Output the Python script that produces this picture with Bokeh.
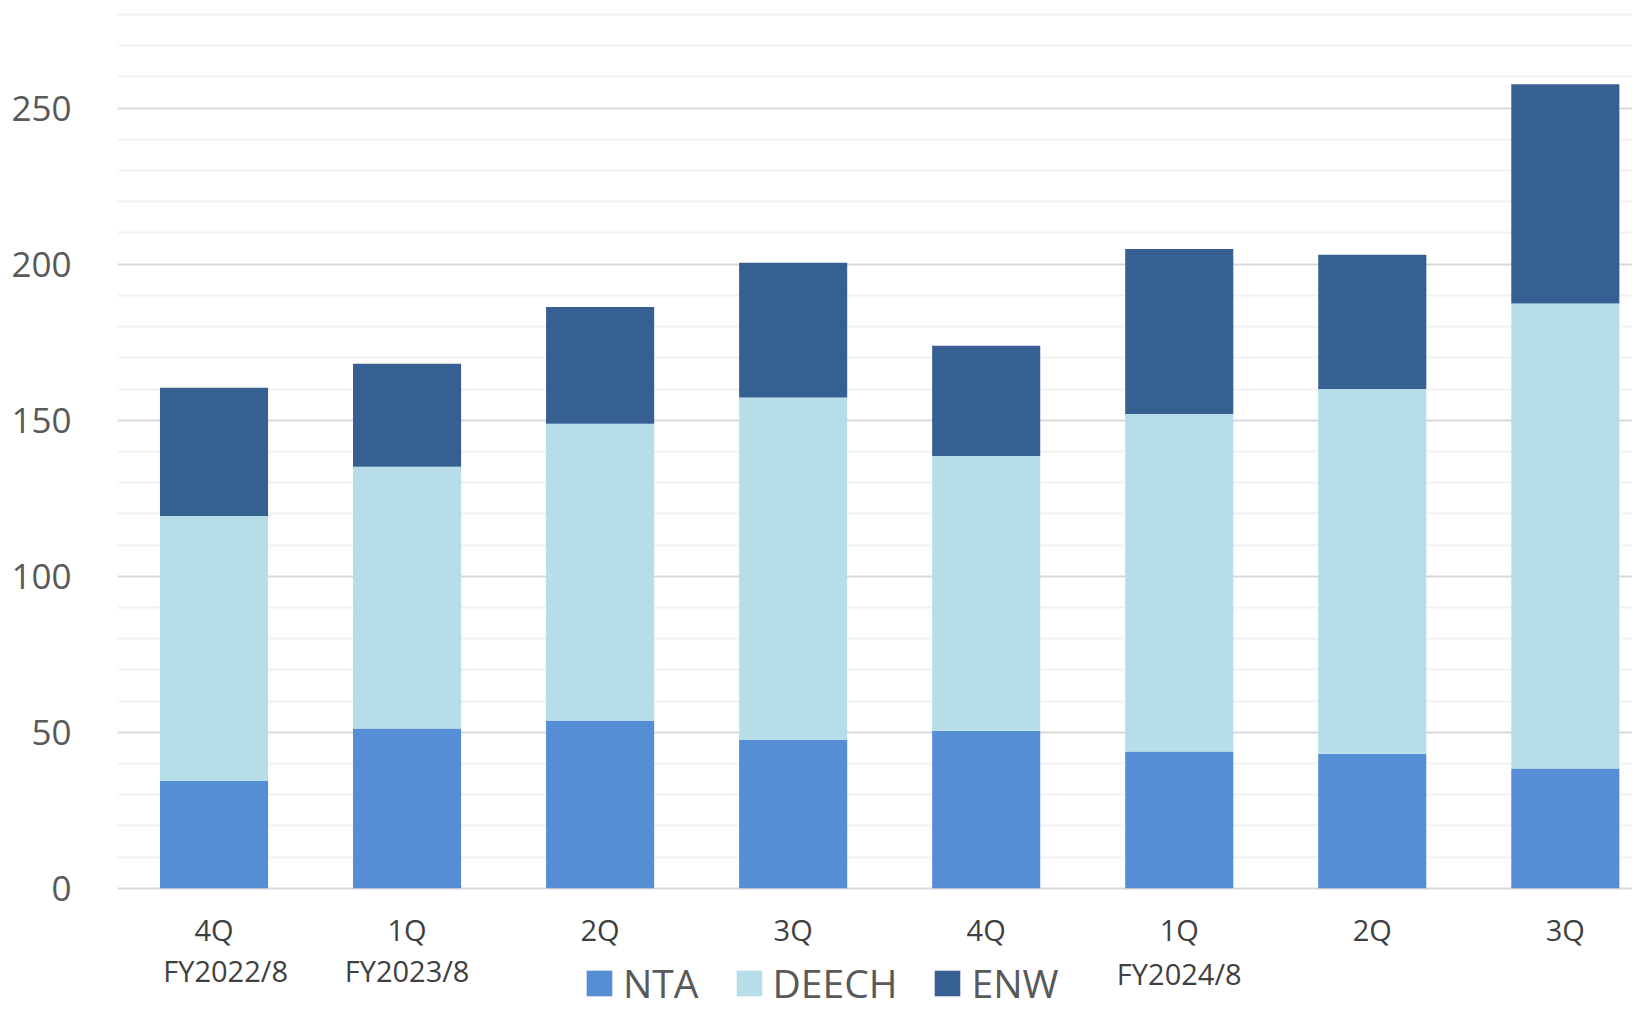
from bokeh.plotting import figure
from bokeh.models import ColumnDataSource, Range1d, FixedTicker, Legend, LegendItem
from bokeh.core.properties import value
from bokeh.embed import file_html
from bokeh.resources import INLINE

# ---- data ----
quarters = ["4Q", "1Q", "2Q", "3Q", "4Q", "1Q", "2Q", "3Q"]
fiscal_years = ["FY2022/8", "FY2023/8", "FY2024/8"]
fiscal_year_pos = [0.06, 1.0, 5.0]
nta = [34.4, 51.2, 53.6, 47.5, 50.5, 43.8, 43.1, 38.4]
deech = [84.9, 83.9, 95.3, 109.8, 88.0, 108.2, 116.9, 149.0]
enw = [41.1, 33.0, 37.4, 43.2, 35.4, 52.9, 43.0, 70.3]
series = ["NTA", "DEECH", "ENW"]
colors = ["#558ED5", "#B7DEE8", "#376092"]
y_major_ticks = [0, 50, 100, 150, 200, 250]
y_minor_ticks = [10, 20, 30, 40, 60, 70, 80, 90, 110, 120, 130, 140, 160, 170, 180,
                 190, 210, 220, 230, 240, 260, 270, 280]

x = list(range(len(quarters)))
source = ColumnDataSource(dict(x=x, NTA=nta, DEECH=deech, ENW=enw))

FONT = "Open Sans"

p = figure(width=1632, height=1012, output_backend="svg", toolbar_location=None,
           x_range=Range1d(-0.5, 7.348), y_range=Range1d(-39.8, 284.5),
           x_axis_location=None,
           min_border_left=117, min_border_right=0, min_border_top=0,
           min_border_bottom=0)
p.outline_line_color = None
p.background_fill_color = "white"
p.border_fill_color = "white"

renderers = p.vbar_stack(series, x="x", width=0.56, color=colors, source=source,
                         line_color=None)

# y axis
p.yaxis.ticker = FixedTicker(ticks=y_major_ticks, minor_ticks=y_minor_ticks)
p.yaxis.axis_line_color = None
p.yaxis.major_tick_line_color = None
p.yaxis.minor_tick_line_color = None
p.yaxis.major_label_standoff = 40
p.yaxis.major_label_text_font = FONT
p.yaxis.major_label_text_font_size = "35px"
p.yaxis.major_label_text_color = "#595959"
p.ygrid.grid_line_color = "#d9d9d9"
p.ygrid.grid_line_width = 2
p.ygrid.minor_grid_line_color = "#f2f2f2"
p.ygrid.minor_grid_line_width = 2
p.xgrid.grid_line_color = None

# category axis labels (quarters) and fiscal-year labels
qsrc = ColumnDataSource(dict(x=x, y=[-13.2] * len(x), text=quarters))
p.text(x="x", y="y", text="text", source=qsrc, text_align="center",
       text_baseline="middle", text_font=value(FONT), text_font_size=value("29px"),
       text_color="#404040")
fsrc = ColumnDataSource(dict(x=fiscal_year_pos, y=[-26.2, -26.2, -27.2], text=fiscal_years))
p.text(x="x", y="y", text="text", source=fsrc, text_align="center",
       text_baseline="middle", text_font=value(FONT), text_font_size=value("29px"),
       text_color="#404040")

# legend
legend = Legend(items=[LegendItem(label=s, renderers=[r]) for s, r in zip(series, renderers)],
                orientation="horizontal", location=(466, 3),
                glyph_width=32, glyph_height=32, label_standoff=8, spacing=34,
                padding=0, margin=0, border_line_color=None, background_fill_alpha=0,
                label_text_font=FONT, label_text_font_size="39px",
                label_text_color="#595959")
p.add_layout(legend, "center")

open("out.html", "w").write(file_html(p, INLINE))
